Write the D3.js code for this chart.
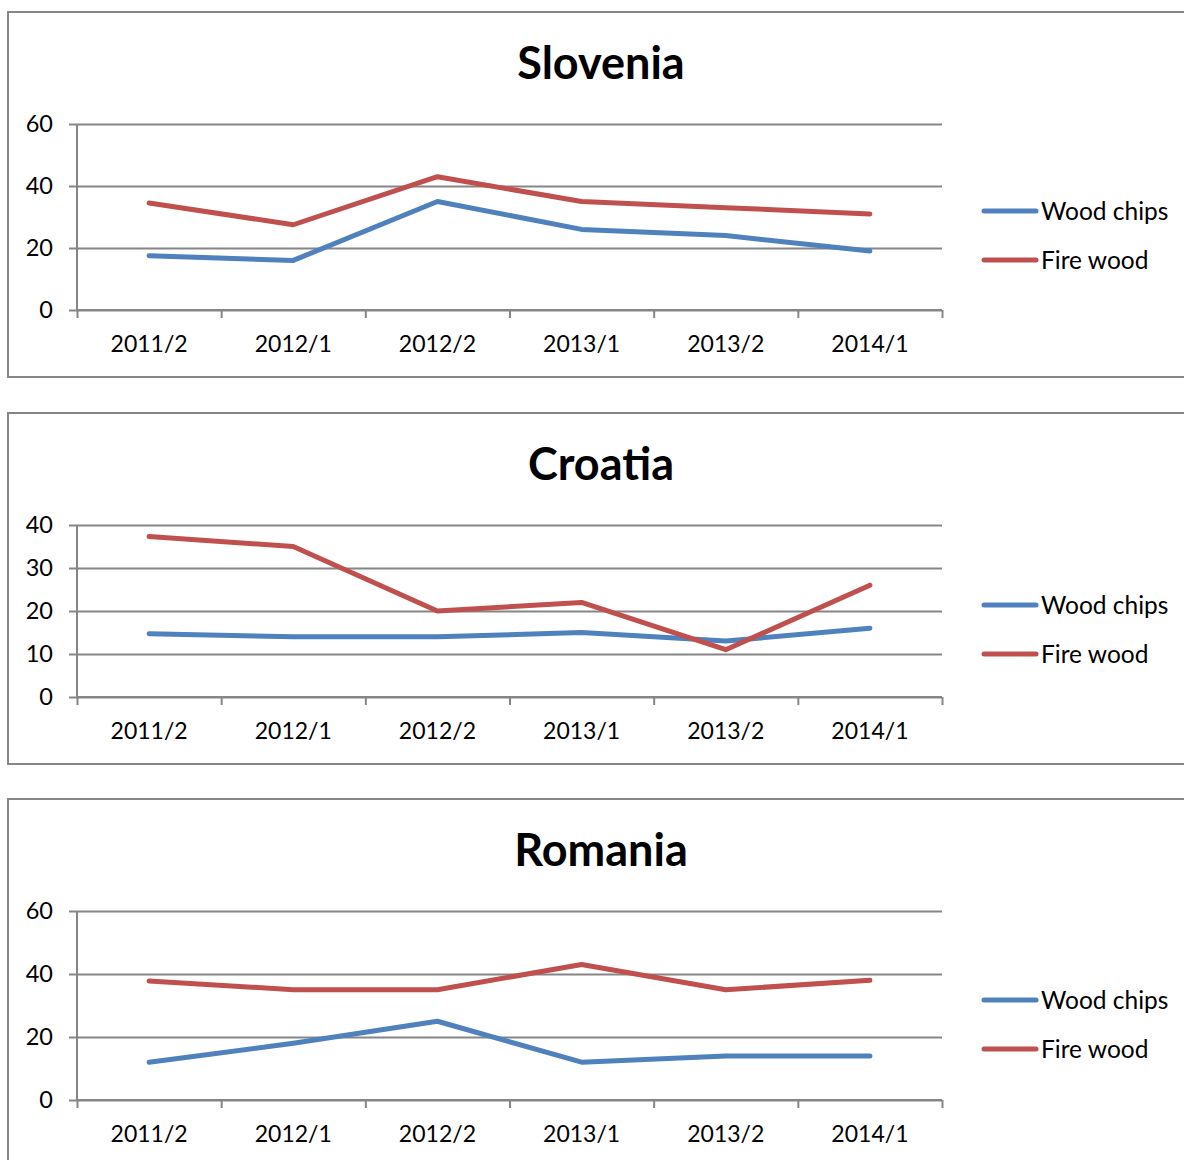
<!DOCTYPE html>
<html>
<head>
<meta charset="utf-8">
<script src="https://cdn.jsdelivr.net/npm/d3@7"></script>
<style>
  body { margin: 0; background: #fff; }
  svg { display: block; font-family: Lato, "Open Sans", sans-serif; }
</style>
</head>
<body>
<svg id="chart" width="1184" height="1160"></svg>
<script>
const periods = ["2011/2", "2012/1", "2012/2", "2013/1", "2013/2", "2014/1"];
const seriesNames = ["Wood chips", "Fire wood"];
const colors = ["#4F81BD", "#C0504D"];

const sloveniaChips = [17.5, 16, 35, 26, 24, 19];
const sloveniaFire = [34.5, 27.5, 43, 35, 33, 31];
const croatiaChips = [14.7, 14, 14, 15, 13, 16];
const croatiaFire = [37.3, 35, 20, 22, 11, 26];
const romaniaChips = [12, 18, 25, 12, 14, 14];
const romaniaFire = [37.8, 35, 35, 43, 35, 38];

const sloveniaTicks = [0, 20, 40, 60];
const croatiaTicks = [0, 10, 20, 30, 40];
const romaniaTicks = [0, 20, 40, 60];

const panels = [
    { title: "Slovenia", series: [sloveniaChips, sloveniaFire], ticks: sloveniaTicks,
      box: [8, 12, 1200, 377], plotTop: 124, plotBottom: 310, titleY: 79, legendY: 211 },
    { title: "Croatia", series: [croatiaChips, croatiaFire], ticks: croatiaTicks,
      box: [8, 413, 1200, 764], plotTop: 525, plotBottom: 697, titleY: 480, legendY: 605 },
    { title: "Romania", series: [romaniaChips, romaniaFire], ticks: romaniaTicks,
      box: [8, 799, 1200, 1200], plotTop: 911, plotBottom: 1100, titleY: 866, legendY: 1000 }
];

const plotLeft = 77;
const plotRight = 942;
const grey = "#868686";

const svg = d3.select("#chart");

panels.forEach(p => {
    const g = svg.append("g");

    // outer frame
    g.append("rect")
        .attr("x", p.box[0])
        .attr("y", p.box[1])
        .attr("width", p.box[2] - p.box[0])
        .attr("height", p.box[3] - p.box[1])
        .attr("fill", "#fff")
        .attr("stroke", grey)
        .attr("stroke-width", 2);

    g.append("text")
        .attr("x", 601)
        .attr("y", p.titleY)
        .attr("text-anchor", "middle")
        .attr("font-size", "45px")
        .attr("font-weight", "bold")
        .attr("fill", "#000")
        .text(p.title);

    const x = d3.scaleBand()
        .domain(periods)
        .range([plotLeft, plotRight]);
    const xEdge = d3.scaleLinear()
        .domain([0, periods.length])
        .range([plotLeft, plotRight]);
    const y = d3.scaleLinear()
        .domain([0, d3.max(p.ticks)])
        .range([p.plotBottom, p.plotTop]);

    // gridlines + y axis
    const yAxis = d3.axisLeft(y)
        .tickValues(p.ticks)
        .tickSize(-(plotRight - plotLeft))
        .tickPadding(24);

    g.append("g")
        .attr("class", "axis y")
        .attr("transform", `translate(${plotLeft},0)`)
        .call(yAxis)
        .call(a => a.select(".domain").remove())
        .call(a => a.selectAll(".tick line")
            .attr("x1", -8)
            .attr("stroke", grey)
            .attr("stroke-width", 2))
        .call(a => a.selectAll(".tick text")
            .attr("font-size", "23.5px")
            .attr("fill", "#000")
            .attr("font-family", "Lato, sans-serif"));

    // y axis line
    g.append("line")
        .attr("x1", plotLeft).attr("x2", plotLeft)
        .attr("y1", p.plotTop).attr("y2", p.plotBottom)
        .attr("stroke", grey).attr("stroke-width", 2);

    // x axis ticks at category edges
    const xAxis = d3.axisBottom(xEdge)
        .tickValues(d3.range(periods.length + 1))
        .tickSize(8)
        .tickFormat("");
    g.append("g")
        .attr("transform", `translate(0,${p.plotBottom})`)
        .call(xAxis)
        .call(a => a.select(".domain").attr("stroke", grey).attr("stroke-width", 2).attr("d", `M${plotLeft},0H${plotRight}`))
        .call(a => a.selectAll(".tick line").attr("stroke", grey).attr("stroke-width", 2));

    // x labels
    const xLabels = d3.axisBottom(x).tickSize(0).tickPadding(26);
    g.append("g")
        .attr("transform", `translate(0,${p.plotBottom})`)
        .call(xLabels)
        .call(a => a.select(".domain").remove())
        .call(a => a.selectAll(".tick text")
            .attr("font-size", "23px")
            .attr("fill", "#000")
            .attr("font-family", "Lato, sans-serif"));

    const line = d3.line()
        .x((d, i) => x(periods[i]) + x.bandwidth() / 2)
        .y(d => y(d));

    p.series.forEach((s, k) => {
        g.append("path")
            .datum(s)
            .attr("d", line)
            .attr("fill", "none")
            .attr("stroke", colors[k])
            .attr("stroke-width", 5)
            .attr("stroke-linecap", "round")
            .attr("stroke-linejoin", "round");
    });

    // legend
    const leg = g.append("g")
        .selectAll("g")
        .data(seriesNames)
        .enter()
        .append("g")
        .attr("transform", (d, i) => `translate(984,${p.legendY + i * 49})`);
    leg.append("line")
        .attr("x1", 0).attr("x2", 52)
        .attr("stroke", (d, i) => colors[i])
        .attr("stroke-width", 5)
        .attr("stroke-linecap", "round");
    leg.append("text")
        .attr("x", 57)
        .attr("dy", "0.35em")
        .attr("font-size", "24.5px")
        .attr("fill", "#000")
        .text(d => d);
});
</script>
</body>
</html>
